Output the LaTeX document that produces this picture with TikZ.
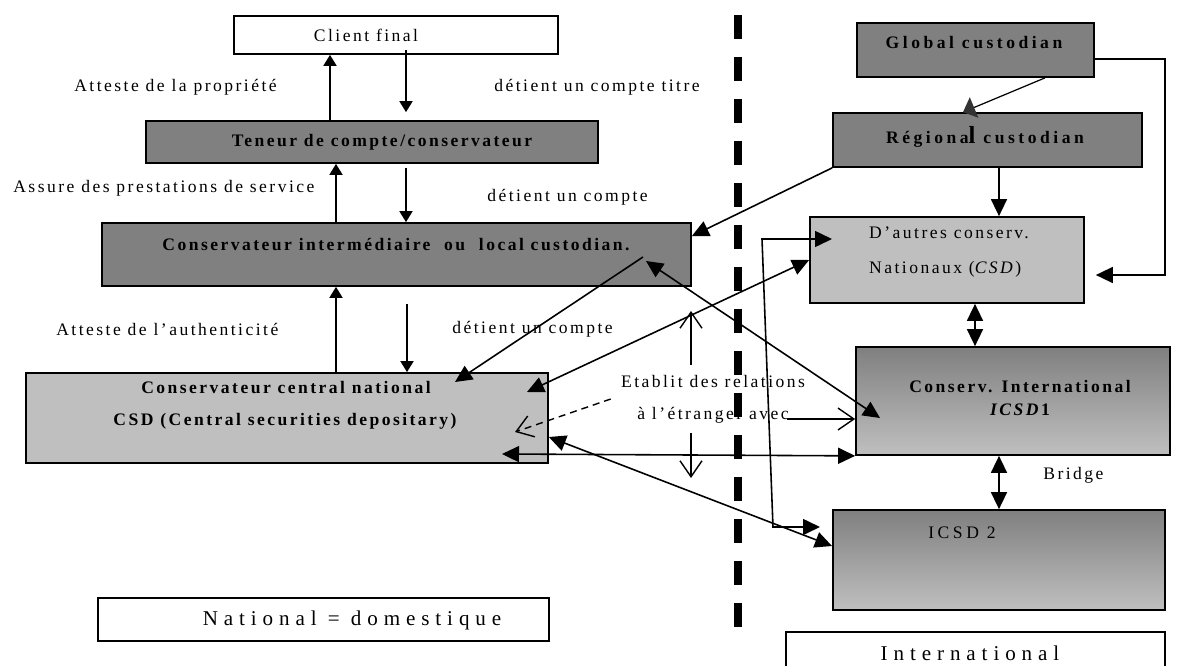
\documentclass[tikz,border=0pt]{standalone}
\usepackage{fontspec}
\setmainfont{Liberation Serif}[LetterSpace=14]
\newfontfamily\titrefont{Liberation Serif}[LetterSpace=20]
\newfontfamily\grandfont{Liberation Serif}[LetterSpace=28]
\usetikzlibrary{arrows.meta}
\definecolor{grisfonce}{gray}{0.5}
\definecolor{grisclair}{gray}{0.75}

\begin{document}
\begin{tikzpicture}[x=0.02cm, y=-0.02cm, font=\fontsize{10}{12}\selectfont,
  boite/.style={draw, line width=1pt, inner sep=0pt},
  fonce/.style={boite, fill=grisfonce},
  clair/.style={boite, fill=grisclair},
  degrade/.style={boite, top color=grisfonce, bottom color=grisclair},
  lbl/.style={anchor=west, inner sep=0pt},
  fleche/.style={line width=0.9pt, -{Triangle[length=0.34cm,width=0.32cm]}},
  doublefleche/.style={line width=0.9pt, {Triangle[length=0.34cm,width=0.32cm]}-{Triangle[length=0.34cm,width=0.32cm]}},
  petite/.style={line width=1pt, -{Triangle[length=0.22cm,width=0.26cm]}},
  ouvert/.style={line width=0.8pt, -{Straight Barb[length=0.32cm,width=0.44cm]}}]
%%%%%%%%%%%%%%%%%%%%%%%%%%%%%%%%%%%%%%%%%%% HELP LINES
%\draw[help lines, step=50] (0,0) grid (1177,666);
\useasboundingbox (0,0) rectangle (1177,666);

%%%%%%%%%%%%%%%%%%%%%%%%%%%%%%%%%%%%%%%%%%% separation
\draw[line width=0.16cm, dash pattern=on 0.48cm off 0.36cm] (738,15) -- (738,640);

%%%%%%%%%%%%%%%%%%%%%%%%%%%%%%%%%%%%%%%%%%% national side
\node[boite, minimum width=6.48cm, minimum height=0.76cm](client) at (396,35){};
\node[fonce, minimum width=9.04cm, minimum height=0.84cm](teneur) at (372,142){};
\node[fonce, minimum width=11.78cm, minimum height=1.26cm](intermediate) at (396.5,254.5){};
\node[clair, minimum width=10.44cm, minimum height=1.8cm](csd) at (287,418){};
\node[boite, minimum width=9.02cm, minimum height=0.86cm](national) at (323.5,619.5){};

\node(tClient) at (366,35){Client final};
\node(tTeneur) at (382,142){\bfseries Teneur de compte/conservateur};
\node(tIntermediate) at (396,245){\bfseries Conservateur intermédiaire\ \ ou\ \ local custodian.};
\node(tCsdA) at (286,388){\bfseries Conservateur central national};
\node(tCsdB) at (285,421){\bfseries CSD (Central securities depositary)};
\node(tNational) at (352,620){\fontsize{12}{14}\selectfont\grandfont National = domestique};

%%%%% relations
\node[lbl](propriete) at (74,87){Atteste de la propriété};
\node[lbl](titre) at (494,87){détient un compte titre};
\node[lbl](service) at (13,188){Assure des prestations de service};
\node[lbl](compteA) at (487,197){détient un compte};
\node[lbl](authenticite) at (56,329){Atteste de l’authenticité};
\node[lbl](compteB) at (452,329){détient un compte};

%%%%%%%%%%%%%%%%%%%%%%%%%%%%%%%%%%%%%%%%%%% international side
\node[fonce, minimum width=4.74cm, minimum height=1.08cm](global) at (975.5,50){};
\node[fonce, minimum width=6.18cm, minimum height=1.08cm](regional) at (987.5,140){};
\node[clair, minimum width=5.48cm, minimum height=1.72cm](autres) at (947,260){};
\node[degrade, minimum width=6.28cm, minimum height=2.16cm](icsd1) at (1013,401){};
\node[degrade, minimum width=6.64cm, minimum height=2cm](icsd2) at (999,560){};
\node[boite, minimum width=7.58cm, minimum height=0.8cm](intl) at (975.5,652){};

\node(tGlobal) at (974,43){\titrefont\bfseries Global custodian};
\node(tRegional) at (985,137){\titrefont\bfseries Régiona{\fontsize{14}{14}\selectfont l} custodian};
\node[anchor=west, align=left, font=\fontsize{10}{20}\selectfont](tAutres) at (863,252){D’autres conserv.\\Nationaux (\textit{CSD})};
\node[align=center, font=\fontsize{10}{13}\selectfont\bfseries](tIcsd1) at (1020,398){Conserv. International\\\textit{ICSD}1};
\node(tIcsd2) at (962,533){\titrefont ICSD 2};
\node(tIntl) at (970,653){\fontsize{12}{14}\selectfont\grandfont International};
\node[fill=white, anchor=north west, inner ysep=0pt, inner xsep=0.44cm, text width=2cm, minimum height=0.72cm, align=left](bridge) at (1021,456.5){Bridge};

\node[align=center, inner sep=0.2cm, font=\fontsize{10}{18}\selectfont](etablit) at (713,399){Etablit des relations\\à l’étranger avec};

%%%%% free ends
\coordinate (pInt) at (643,257);
\coordinate (pIntBis) at (646,261);
\coordinate (pCsdHaut) at (455,382);
\coordinate (pCsdMilieu) at (527,392);
\coordinate (pCsdBas) at (502,454);
\coordinate (pIcsdUn) at (880,418);
\coordinate (pFleche) at (515,432);
\coordinate (pHaut) at (691,311);
\coordinate (pBas) at (691,478);
\coordinate (pAvec) at (787,419);
\coordinate (pAutres) at (832,239);
\coordinate (pCoudeA) at (762,239);
\coordinate (pCoudeB) at (773,527);
\coordinate (pIcsdDeux) at (820,527);
\coordinate (pIcsdDeuxBis) at (832,546);

%%%%%%%%%%%%%%%%%%%%%%%%%%%%%%%%%%%%%%%%%%% arrows
\draw[petite] (teneur.north -| 330,0) -- (client.south -| 330,0);
\draw[petite, shorten <=-0.1cm, shorten >=0.16cm] (client.south -| 406,0) -- (teneur.north -| 406,0);
\draw[petite] (intermediate.north -| 336,0) -- (teneur.south -| 336,0);
\draw[petite, shorten <=0.08cm] (teneur.south -| 406,0) -- (intermediate.north -| 406,0);
\draw[petite] (csd.north -| 336,0) -- (intermediate.south -| 336,0);
\draw[petite, shorten <=0.34cm] (intermediate.south -| 407,0) -- (csd.north -| 407,0);

\draw[line width=0.7pt, -{Triangle[length=0.24cm,width=0.44cm,color=black!80]}] (global.south -| 1045,0) -- (regional.north -| 963,0);
\draw[fleche] (regional.south -| 999,0) -- (autres.north -| 999,0);
\draw[fleche] (regional.south west) -- ([yshift=-0.28cm]intermediate.north east);
\draw[fleche, shorten >=0.22cm] ([yshift=-0.18cm]global.east) -| (1165,275) -- (autres.east |- 0,275);
\draw[doublefleche] (autres.south -| 975,0) -- (icsd1.north -| 975,0);
\draw[doublefleche] (icsd1.south -| 999,0) -- (icsd2.north -| 999,0);

\draw[fleche] (pInt) -- (pCsdHaut);
\draw[doublefleche] (pIntBis) -- (pIcsdUn);
\draw[doublefleche] (pCsdMilieu) -- (autres.west);
\draw[doublefleche] (pCsdBas) -- (icsd1.south west);
\draw[doublefleche] (csd.east |- 0,437) -- (pIcsdDeuxBis);
\draw[doublefleche] (pAutres) -- (pCoudeA) -- (pCoudeB) -- (pIcsdDeux);

\draw[ouvert, dash pattern=on 0.14cm off 0.1cm] (etablit.west) -- (pFleche);
\draw[ouvert] (etablit.north -| pHaut) -- (pHaut);
\draw[ouvert] (etablit.south -| pBas) -- (pBas);
\draw[ouvert] (pAvec) -- (icsd1.west |- pAvec);
\end{tikzpicture}
\end{document}
